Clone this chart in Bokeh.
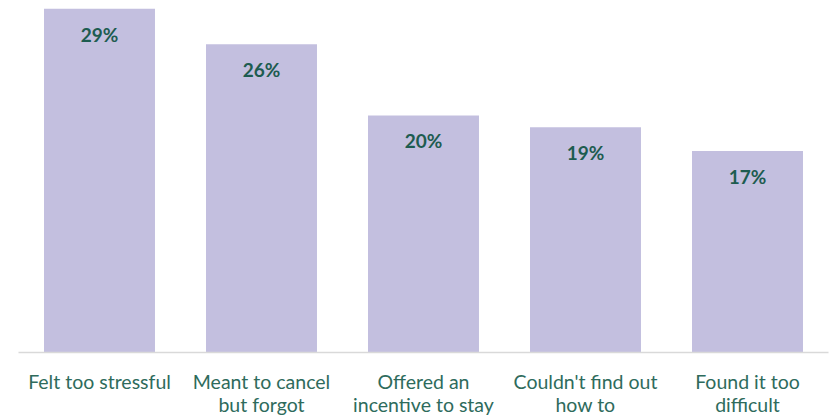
from bokeh.plotting import figure
from bokeh.models import ColumnDataSource, Range1d, FactorRange
from bokeh.core.properties import value
from bokeh.embed import file_html
from bokeh.resources import INLINE

categories = ["Felt too stressful", "Meant to cancel\nbut forgot", "Offered an\nincentive to stay",
              "Couldn't find out\nhow to", "Found it too\ndifficult"]
values = [29, 26, 20, 19, 17]
labels = ["29%", "26%", "20%", "19%", "17%"]

src = ColumnDataSource(dict(cat=categories, val=values, lab=labels))

p = figure(width=831, height=418, x_range=FactorRange(*categories), y_range=Range1d(0, 29.7),
           output_backend="svg", toolbar_location=None,
           min_border_left=18, min_border_right=3, min_border_top=0, min_border_bottom=55)

p.vbar(x="cat", top="val", width=0.685, source=src, fill_color="#c3bfdf", line_color=None)
p.text(x="cat", y="val", text="lab", source=src, y_offset=14, text_align="center",
       text_baseline="top", text_font=value("Lato"), text_font_style="bold",
       text_font_size="19px", text_color="#1d5c50")

p.outline_line_color = None
p.xgrid.grid_line_color = None
p.ygrid.grid_line_color = None
p.yaxis.visible = False
p.xaxis.axis_line_color = "#d9d9d9"
p.xaxis.axis_line_width = 1.5
p.xaxis.major_tick_line_color = None
p.xaxis.minor_tick_line_color = None
p.xaxis.major_label_standoff = 11
p.xaxis.major_label_text_font = "Lato"
p.xaxis.major_label_text_font_size = "19.5px"
p.xaxis.major_label_text_color = "#2e6b5c"
p.xaxis.major_label_text_line_height = 1.0

open("out.html", "w").write(file_html(p, INLINE))
